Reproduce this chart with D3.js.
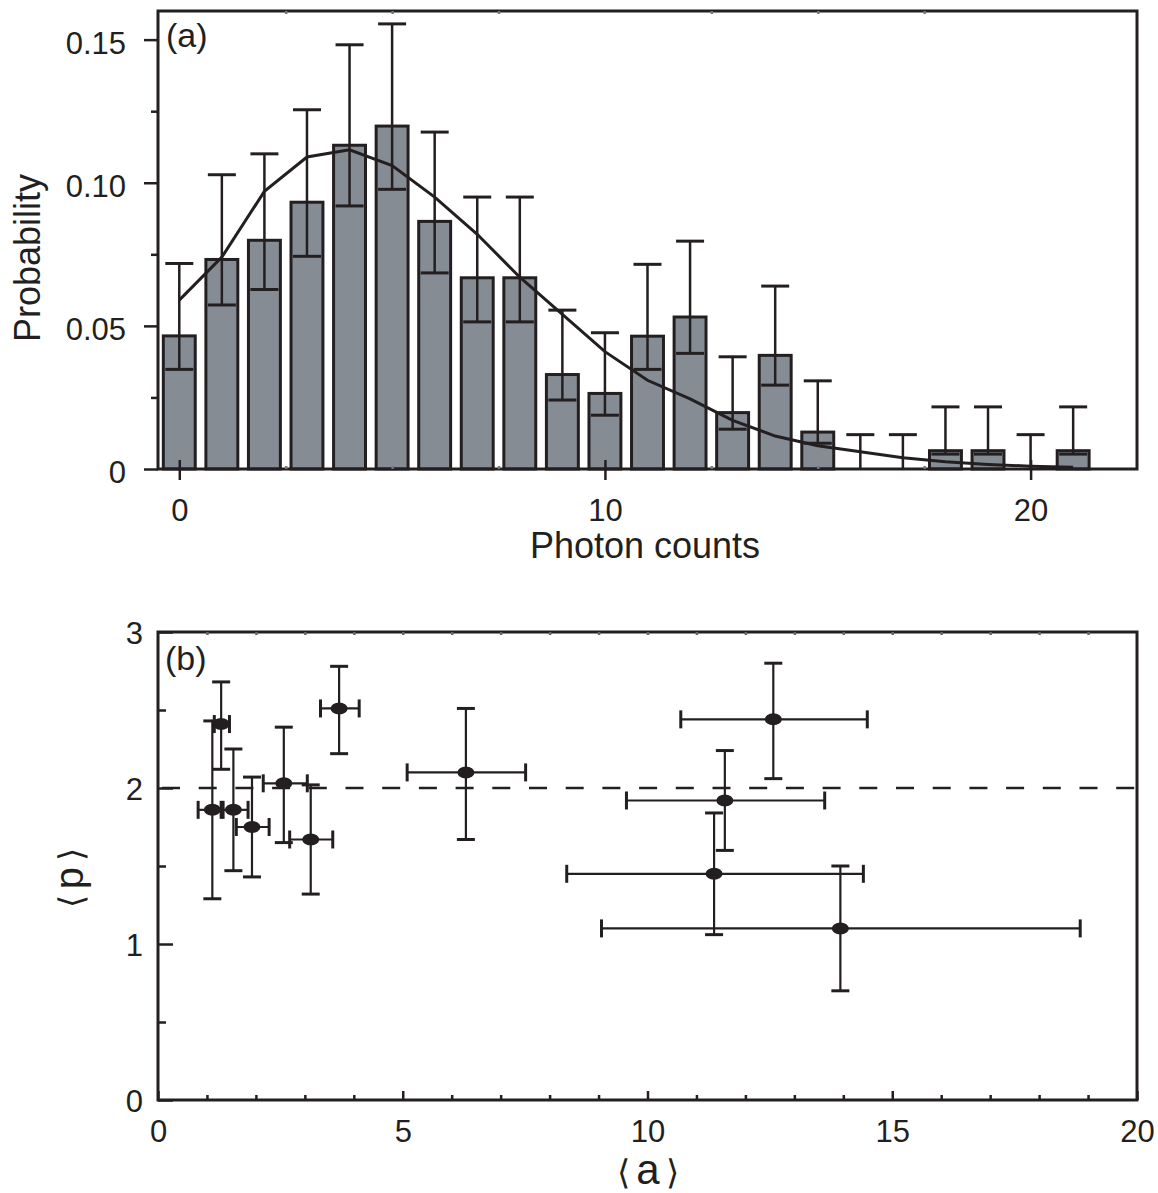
<!DOCTYPE html>
<html>
<head>
<meta charset="utf-8">
<script src="https://cdn.jsdelivr.net/npm/d3@7"></script>
<style>
  body { margin: 0; background: #fff; }
  text { font-family: "Liberation Sans", Arial, sans-serif; fill: #231f20; }
</style>
</head>
<body>
<svg id="chart" width="1158" height="1193"></svg>
<script>
// ---- panel (a): photon count histogram ----
const photonCounts = [0, 1, 2, 3, 4, 5, 6, 7, 8, 9, 10, 11, 12, 13, 14, 15, 16, 17, 18, 19, 20, 21];
const probability = [0.0465, 0.0732, 0.0799, 0.0932, 0.1131, 0.1198, 0.0865, 0.0668, 0.0668, 0.0330, 0.0264,
                     0.0464, 0.0531, 0.0197, 0.0397, 0.0129, 0, 0, 0.0064, 0.0064, 0, 0.0064];
const probLow = [0.0348, 0.0573, 0.0627, 0.0743, 0.0919, 0.0977, 0.0685, 0.0514, 0.0514, 0.0241, 0.0188,
                 0.0348, 0.0404, 0.0139, 0.0293, 0.0090, 0, 0, 0.0052, 0.0052, 0, 0.0052];
const probHigh = [0.0718, 0.1028, 0.1101, 0.1255, 0.1482, 0.1555, 0.1177, 0.0950, 0.0950, 0.0555, 0.0476,
                  0.0715, 0.0796, 0.0392, 0.0639, 0.0308, 0.0120, 0.0120, 0.0217, 0.0217, 0.0120, 0.0217];
const fitProb = [0.059, 0.074, 0.097, 0.109, 0.1115, 0.106, 0.095, 0.082, 0.067, 0.054, 0.041,
                 0.031, 0.0245, 0.017, 0.0115, 0.0081, 0.006, 0.0039, 0.0025, 0.0016, 0.001, 0.0006];
const countTicks = [0, 10, 20];
const probTicks = [0, 0.05, 0.10, 0.15];
const probMinor = [0.025, 0.075, 0.125];

// ---- panel (b): <p> versus <a> ----
const meanA = [1.11, 1.29, 1.54, 1.92, 2.57, 3.12, 3.70, 6.29, 12.57, 11.58, 11.36, 13.94];
const aLow  = [0.82, 1.15, 1.33, 1.60, 2.15, 2.69, 3.32, 5.09, 10.68, 9.57, 8.35, 9.06];
const aHigh = [1.29, 1.46, 1.84, 2.27, 3.05, 3.57, 4.11, 7.51, 14.49, 13.62, 14.41, 18.84];
const meanP = [1.86, 2.41, 1.86, 1.75, 2.03, 1.67, 2.51, 2.10, 2.44, 1.92, 1.45, 1.10];
const pLow  = [1.29, 2.12, 1.47, 1.43, 1.65, 1.32, 2.22, 1.67, 2.06, 1.60, 1.06, 0.70];
const pHigh = [2.43, 2.68, 2.25, 2.07, 2.39, 2.02, 2.78, 2.51, 2.80, 2.24, 1.84, 1.50];
const pReference = 2;
const aTicks = [0, 5, 10, 15, 20];
const pTicks = [0, 1, 2, 3];

const ink = '#231f20';
const tickFont = '31px';
const svg = d3.select('#chart');

// ================= panel (a) =================
const xA = d3.scaleLinear().domain([-0.5, 22.5]).range([158, 1137]);
const yA = d3.scaleLinear().domain([0, 0.16]).range([469, 11]);
const barW = xA(0.375) - xA(-0.375);
const capA = 14;

const bars = photonCounts.map((c, i) => ({ c, p: probability[i], lo: probLow[i], hi: probHigh[i] }));
const gA = svg.append('g');

// bars
gA.selectAll('rect.bar')
  .data(bars.filter(d => d.p > 0))
  .enter().append('rect')
  .attr('class', 'bar')
  .attr('x', d => xA(d.c) - barW / 2)
  .attr('y', d => yA(d.p))
  .attr('width', barW)
  .attr('height', d => yA(0) - yA(d.p))
  .attr('fill', '#858c94')
  .attr('stroke', ink)
  .attr('stroke-width', 3);

// error bars
const errA = gA.selectAll('g.err').data(bars).enter().append('g');
errA.append('line')
  .attr('x1', d => xA(d.c)).attr('x2', d => xA(d.c))
  .attr('y1', d => yA(d.lo)).attr('y2', d => yA(d.hi))
  .attr('stroke', ink).attr('stroke-width', 2.5);
errA.append('line')
  .attr('x1', d => xA(d.c) - capA).attr('x2', d => xA(d.c) + capA)
  .attr('y1', d => yA(d.hi)).attr('y2', d => yA(d.hi))
  .attr('stroke', ink).attr('stroke-width', 3);
errA.filter(d => d.p > 0).append('line')
  .attr('x1', d => xA(d.c) - capA).attr('x2', d => xA(d.c) + capA)
  .attr('y1', d => yA(d.lo)).attr('y2', d => yA(d.lo))
  .attr('stroke', ink).attr('stroke-width', 3);

// fit curve
gA.append('path')
  .datum(photonCounts.map((c, i) => [c, fitProb[i]]))
  .attr('fill', 'none')
  .attr('stroke', ink)
  .attr('stroke-width', 3)
  .attr('d', d3.line().x(d => xA(d[0])).y(d => yA(d[1])));

// frame
gA.append('rect')
  .attr('x', 158).attr('y', 11).attr('width', 1137 - 158).attr('height', 469 - 11)
  .attr('fill', 'none').attr('stroke', ink).attr('stroke-width', 3);

// y axis (outward ticks)
const yAxisA = gA.append('g').attr('transform', 'translate(158,0)')
  .call(d3.axisLeft(yA).tickValues(probTicks).tickSize(14).tickPadding(18)
    .tickFormat(d => d === 0 ? '0' : d.toFixed(2)));
gA.append('g').attr('transform', 'translate(158,0)')
  .call(d3.axisLeft(yA).tickValues(probMinor).tickSize(7).tickFormat(''));

// x axis (crossing ticks)
const xAxisA = gA.append('g').attr('transform', 'translate(0,469)')
  .call(d3.axisBottom(xA).tickValues(countTicks).tickSize(11));
xAxisA.selectAll('.tick line').attr('y1', -9);
xAxisA.selectAll('.tick text').attr('y', 52).attr('dy', 0);
// faint minor marks on bottom and top
[[469, -3], [11, 3]].forEach(([y0, s]) => {
  gA.append('g').attr('transform', `translate(0,${y0})`)
    .call(d3.axisBottom(xA).tickValues([2.5, 5, 7.5, 12.5, 15, 17.5]).tickSize(s).tickFormat(''))
    .selectAll('line').attr('stroke', '#777');
});

gA.selectAll('.domain').remove();
gA.selectAll('.tick line').attr('stroke-width', 2.5)
  .filter(function () { return this.getAttribute('stroke') !== '#777'; }).attr('stroke', ink);
gA.selectAll('.tick text').style('font-size', tickFont).attr('fill', ink);
yAxisA.selectAll('.tick text').attr('dy', '0.45em');

gA.append('text').attr('x', 166).attr('y', 47).style('font-size', '34px').text('(a)');
gA.append('text').attr('x', 645).attr('y', 558).attr('text-anchor', 'middle')
  .style('font-size', '36px').text('Photon counts');
gA.append('text').attr('transform', 'translate(40,258) rotate(-90)').attr('text-anchor', 'middle')
  .style('font-size', '36px').text('Probability');

// ================= panel (b) =================
const xB = d3.scaleLinear().domain([0, 20]).range([158, 1137]);
const yB = d3.scaleLinear().domain([0, 3]).range([1100, 632]);
const capB = 9;
const gB = svg.append('g');

const pts = meanA.map((a, i) => ({ a, p: meanP[i], a0: aLow[i], a1: aHigh[i], p0: pLow[i], p1: pHigh[i] }));

// reference line <p> = 2
gB.append('line')
  .attr('x1', xB(0) + 4).attr('x2', xB(20))
  .attr('y1', yB(pReference)).attr('y2', yB(pReference))
  .attr('stroke', ink).attr('stroke-width', 2.5).attr('stroke-dasharray', '18,18.7');

const errB = gB.selectAll('g.pt').data(pts).enter().append('g')
  .attr('stroke', ink).attr('stroke-width', 2.2);
errB.append('line')
  .attr('x1', d => xB(d.a0)).attr('x2', d => xB(d.a1))
  .attr('y1', d => yB(d.p)).attr('y2', d => yB(d.p));
errB.append('line')
  .attr('x1', d => xB(d.a)).attr('x2', d => xB(d.a))
  .attr('y1', d => yB(d.p0)).attr('y2', d => yB(d.p1));
['a0', 'a1'].forEach(k => errB.append('line')
  .attr('x1', d => xB(d[k])).attr('x2', d => xB(d[k]))
  .attr('y1', d => yB(d.p) - capB).attr('y2', d => yB(d.p) + capB)
  .attr('stroke-width', 3));
['p0', 'p1'].forEach(k => errB.append('line')
  .attr('x1', d => xB(d.a) - capB).attr('x2', d => xB(d.a) + capB)
  .attr('y1', d => yB(d[k])).attr('y2', d => yB(d[k]))
  .attr('stroke-width', 3));
errB.append('ellipse')
  .attr('cx', d => xB(d.a)).attr('cy', d => yB(d.p))
  .attr('rx', 8.5).attr('ry', 6)
  .attr('fill', ink).attr('stroke', 'none');

// frame
gB.append('rect')
  .attr('x', 158).attr('y', 632).attr('width', 1137 - 158).attr('height', 1100 - 632)
  .attr('fill', 'none').attr('stroke', ink).attr('stroke-width', 3);

// axes with inward ticks
const yAxisB = gB.append('g').attr('transform', 'translate(158,0)')
  .call(d3.axisLeft(yB).tickValues(pTicks).tickFormat(d3.format('d'))
    .tickSizeInner(-15).tickSizeOuter(0).tickPadding(15));
yAxisB.selectAll('.tick text').attr('dy', '0.36em');
gB.append('g').attr('transform', 'translate(158,0)')
  .call(d3.axisLeft(yB).tickValues([0.5, 1.5, 2.5]).tickSizeInner(-8).tickSizeOuter(0).tickFormat(''));

const xAxisB = gB.append('g').attr('transform', 'translate(0,1100)')
  .call(d3.axisBottom(xB).tickValues(aTicks).tickFormat(d3.format('d'))
    .tickSizeInner(-9).tickSizeOuter(0));
xAxisB.selectAll('.tick text').attr('y', 42).attr('dy', 0);
const unitMinor = [1, 2, 3, 4, 6, 7, 8, 9, 11, 12, 13, 14, 16, 17, 18, 19];
gB.append('g').attr('transform', 'translate(0,1100)')
  .call(d3.axisBottom(xB).tickValues(unitMinor).tickSizeInner(-5).tickSizeOuter(0).tickFormat(''));
gB.append('g').attr('transform', 'translate(0,632)')
  .call(d3.axisBottom(xB).tickValues(unitMinor.concat([5, 10, 15])).tickSizeInner(3).tickSizeOuter(0).tickFormat(''))
  .selectAll('line').attr('stroke', '#666');

gB.selectAll('.domain').remove();
gB.selectAll('.tick line').attr('stroke-width', 2.5)
  .filter(function () { return this.getAttribute('stroke') !== '#666'; }).attr('stroke', ink);
gB.selectAll('.tick text').style('font-size', tickFont).attr('fill', ink);

gB.append('text').attr('x', 165).attr('y', 670).style('font-size', '34px').text('(b)');

// angle bracket labels
function bracketLabel(g, letter, size) {
  const t = g.append('text').attr('text-anchor', 'middle');
  t.append('tspan').style('font-family', '"DejaVu Sans"').style('font-weight', 300)
    .style('font-size', '34px').text('\u27E8');
  t.append('tspan').attr('dx', 6).style('font-size', size + 'px').text(letter);
  t.append('tspan').attr('dx', 6).style('font-family', '"DejaVu Sans"').style('font-weight', 300)
    .style('font-size', '34px').text('\u27E9');
  return t;
}
bracketLabel(gB.append('g').attr('transform', 'translate(648,1184)'), 'a', 42);
bracketLabel(gB.append('g').attr('transform', 'translate(83,878) rotate(-90)'), 'p', 40);
</script>
</body>
</html>
